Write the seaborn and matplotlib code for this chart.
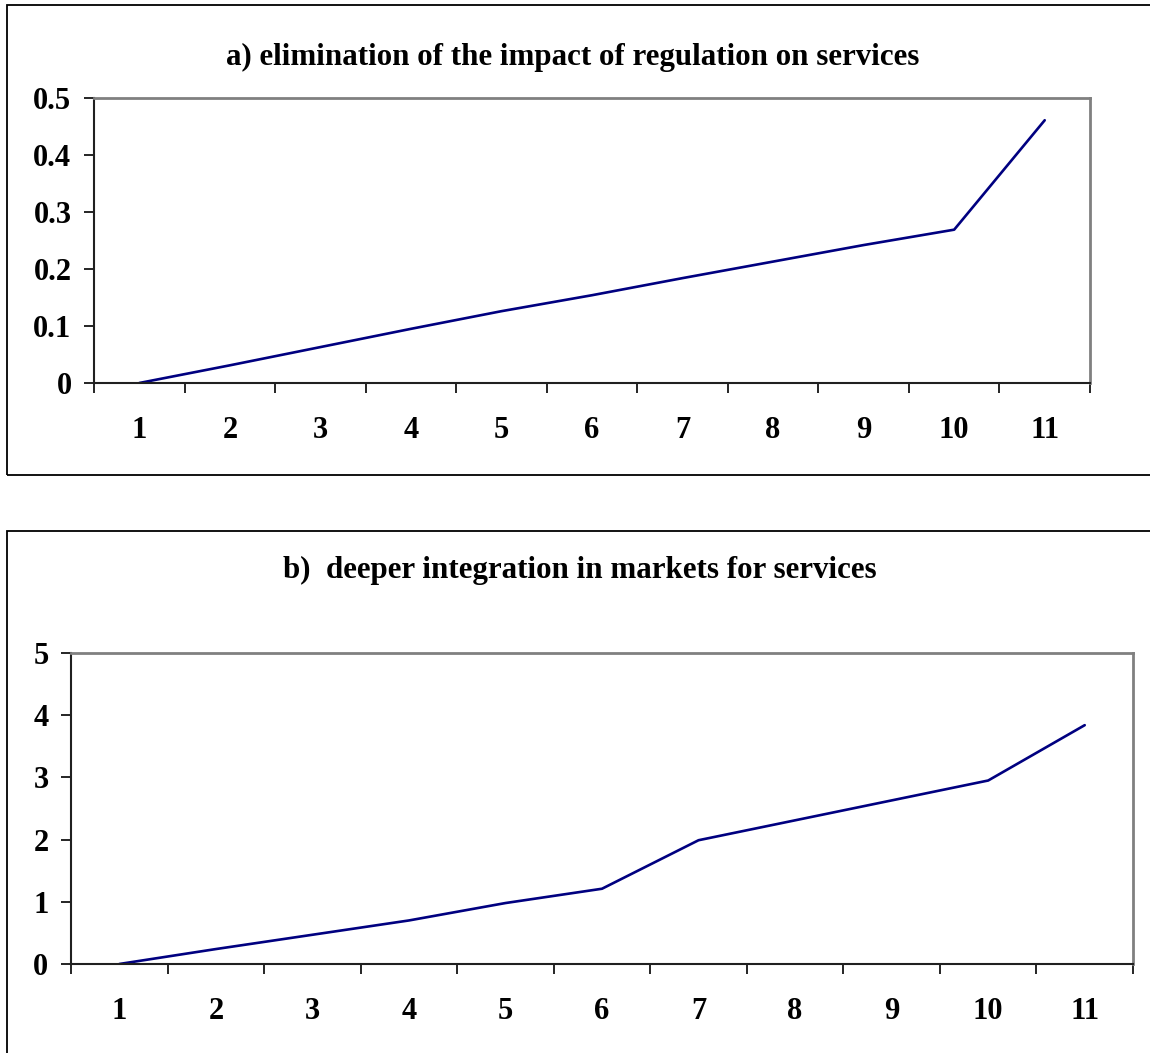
import numpy as np
import pandas as pd
import seaborn as sns
import matplotlib.pyplot as plt
from matplotlib.patches import Rectangle

# data
periods = list(range(1, 12))
regulation = [0, 0.031, 0.063, 0.095, 0.126, 0.154, 0.184, 0.213, 0.242, 0.269, 0.461]
integration = [0, 0.24, 0.47, 0.70, 0.98, 1.21, 1.99, 2.31, 2.63, 2.95, 3.84]

yticks_a = [0, 0.1, 0.2, 0.3, 0.4, 0.5]
ylabels_a = ['0', '0.1', '0.2', '0.3', '0.4', '0.5']
yticks_b = [0, 1, 2, 3, 4, 5]
ylabels_b = ['0', '1', '2', '3', '4', '5']
xlabels = [str(p) for p in periods]

title_a = 'a) elimination of the impact of regulation on services'
title_b = 'b)  deeper integration in markets for services'

sns.set_theme(style='ticks')
plt.rcParams['font.family'] = ['Liberation Serif', 'DejaVu Serif']
plt.rcParams['font.weight'] = 'bold'
plt.rcParams['text.color'] = 'black'
plt.rcParams['xtick.color'] = 'black'
plt.rcParams['ytick.color'] = 'black'

W, H = 1150, 1053
fig = plt.figure(figsize=(W / 100, H / 100), dpi=100)


def box(x0, y0, x1, y1):
    # pixel box (top-left origin) -> figure fraction
    return [x0 / W, 1 - y1 / H, (x1 - x0) / W, (y1 - y0) / H]


def panel(rect, values, yticks, ylabels, title, title_x, title_y, frame):
    # outer frame round the whole chart
    fx0, fy0, fx1, fy1 = frame
    fig.add_artist(Rectangle((fx0 / W, 1 - fy1 / H), (fx1 - fx0) / W, (fy1 - fy0) / H,
                             transform=fig.transFigure, fill=False, ec='black', lw=1.3))
    ax = fig.add_axes(box(*rect))
    df = pd.DataFrame({'period': periods, 'value': values})
    sns.lineplot(data=df, x='period', y='value', color='#000080', lw=1.9, ax=ax)
    ax.set_xlim(0.5, 11.5)
    ax.set_ylim(yticks[0], yticks[-1])
    ax.set_xlabel('')
    ax.set_ylabel('')

    # category boundaries carry the tick marks, centres carry the labels
    ax.set_xticks(np.arange(0.5, 12, 1))
    ax.set_xticklabels([])
    ax.set_xticks(periods, minor=True)
    ax.set_xticklabels(xlabels, minor=True, fontsize=22, fontweight='bold')
    ax.tick_params(axis='x', which='major', length=7.2, width=1.2, color='black', direction='out')
    ax.tick_params(axis='x', which='minor', length=0, pad=24)

    ax.set_yticks(yticks)
    ax.set_yticklabels(ylabels, fontsize=22, fontweight='bold')
    ax.tick_params(axis='y', length=7.2, width=1.2, color='black', pad=9, direction='out')

    for s in ['left', 'bottom']:
        ax.spines[s].set_color('#202020')
        ax.spines[s].set_linewidth(1.5)
    for s in ['top', 'right']:
        ax.spines[s].set_visible(True)
        ax.spines[s].set_color('#808080')
        ax.spines[s].set_linewidth(2)

    fig.text(title_x / W, 1 - title_y / H, title, ha='center', va='center',
             fontsize=22.3, fontweight='bold')
    return ax


panel((94, 98, 1090, 383), regulation, yticks_a, ylabels_a, title_a, 573, 57,
      (7, 5, 1153, 475))
panel((71, 653, 1133, 964), integration, yticks_b, ylabels_b, title_b, 580, 570,
      (7, 531, 1153, 1057))

plt.savefig('out.png', dpi=100)
